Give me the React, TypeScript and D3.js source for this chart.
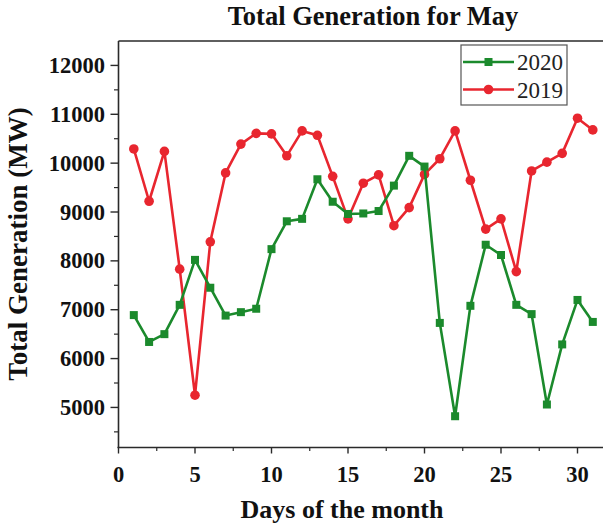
import React from "react";
import * as d3 from "d3";

const days = d3.range(1, 32);
const gen2020 = [6890, 6340, 6500, 7100, 8020, 7450, 6880, 6950, 7020, 8240, 8810, 8860, 9670, 9210, 8960, 8970, 9020, 9540, 10150, 9930, 6730, 4820, 7080, 8330, 8120, 7100, 6910, 5060, 6290, 7200, 6750];
const gen2019 = [10290, 9220, 10240, 7830, 5250, 8390, 9800, 10390, 10610, 10600, 10150, 10660, 10570, 9730, 8860, 9590, 9760, 8720, 9090, 9770, 10090, 10660, 9650, 8650, 8860, 7780, 9840, 10020, 10200, 10920, 10680];
const xTicks = [0, 5, 10, 15, 20, 25, 30];
const yTicks = [5000, 6000, 7000, 8000, 9000, 10000, 11000, 12000];
const seriesNames = ["2020", "2019"];

const W = 603, H = 528;
const FONT = "'Liberation Serif', 'Times New Roman', serif";
const GREEN = "#1b8a2c";
const RED = "#e8262f";

export default function App() {
  const x = d3.scaleLinear().domain([0, 32]).range([118.5, 118.5 + 32 * 15.3]);
  const y = d3.scaleLinear().domain([4180, 12500]).range([447.5, 41]);
  const line = d3.line<number>().x((_, i) => x(days[i])).y((d) => y(d));
  const xMinor = d3.range(2.5, 32, 5);
  const yMinor = d3.range(4500, 12500, 1000);
  const axisColor = "#2a2a2a";

  return (
    <svg width={W} height={H} style={{ position: "absolute", left: 0, top: 0, background: "#fff" }} fontFamily={FONT}>
      <rect width={W} height={H} fill="#fff" />
      <text x={373} y={25} textAnchor="middle" fontSize={26.5} fontWeight="bold" fill="#111">Total Generation for May</text>
      {/* frame */}
      <line x1={x(0)} x2={W} y1={41} y2={41} stroke={axisColor} strokeWidth={1.6} />
      <line x1={x(0)} x2={x(0)} y1={41} y2={448} stroke={axisColor} strokeWidth={1.6} />
      <line x1={x(0) - 1} x2={W} y1={447.5} y2={447.5} stroke={axisColor} strokeWidth={1.6} />
      {/* x ticks */}
      {xTicks.map((t) => (
        <g key={"xt" + t}>
          <line x1={x(t)} x2={x(t)} y1={447.5} y2={453.5} stroke={axisColor} strokeWidth={1.4} />
          <text x={x(t)} y={482} textAnchor="middle" fontSize={22.5} fontWeight="bold" fill="#111">{t}</text>
        </g>
      ))}
      {xMinor.map((t) => (
        <line key={"xm" + t} x1={x(t)} x2={x(t)} y1={447.5} y2={451} stroke={axisColor} strokeWidth={1.2} />
      ))}
      {/* y ticks */}
      {yTicks.map((t) => (
        <g key={"yt" + t}>
          <line x1={x(0) - 8} x2={x(0)} y1={y(t)} y2={y(t)} stroke={axisColor} strokeWidth={1.4} />
          <text x={105} y={y(t) + 7.5} textAnchor="end" fontSize={22.5} fontWeight="bold" fill="#111">{t}</text>
        </g>
      ))}
      {yMinor.map((t) => (
        <line key={"ym" + t} x1={x(0) - 4.5} x2={x(0)} y1={y(t)} y2={y(t)} stroke={axisColor} strokeWidth={1.2} />
      ))}
      {/* axis titles */}
      <text x={342} y={518} textAnchor="middle" fontSize={26} fontWeight="bold" fill="#111">Days of the month</text>
      <text transform={`translate(27,244) rotate(-90)`} textAnchor="middle" fontSize={27} fontWeight="bold" fill="#111">Total Generation (MW)</text>
      {/* series */}
      <path d={line(gen2019) || ""} fill="none" stroke={RED} strokeWidth={2.6} strokeLinejoin="round" />
      {gen2019.map((v, i) => (
        <circle key={"r" + i} cx={x(days[i])} cy={y(v)} r={4.8} fill={RED} />
      ))}
      <path d={line(gen2020) || ""} fill="none" stroke={GREEN} strokeWidth={2.6} strokeLinejoin="round" />
      {gen2020.map((v, i) => (
        <rect key={"g" + i} x={x(days[i]) - 4} y={y(v) - 4} width={8} height={8} fill={GREEN} />
      ))}
      {/* legend */}
      <rect x={461} y={45} width={106} height={60} fill="#fff" stroke="#555" strokeWidth={1.2} />
      {seriesNames.map((n, i) => {
        const cy = 62 + i * 27.5;
        const c = i === 0 ? GREEN : RED;
        return (
          <g key={n}>
            <line x1={463} x2={514} y1={cy} y2={cy} stroke={c} strokeWidth={2.6} />
            {i === 0 ? (
              <rect x={484.5} y={cy - 4} width={8} height={8} fill={c} />
            ) : (
              <circle cx={488.5} cy={cy} r={4.8} fill={c} />
            )}
            <text x={517} y={cy + 8} fontSize={23} fill="#222">{n}</text>
          </g>
        );
      })}
    </svg>
  );
}
